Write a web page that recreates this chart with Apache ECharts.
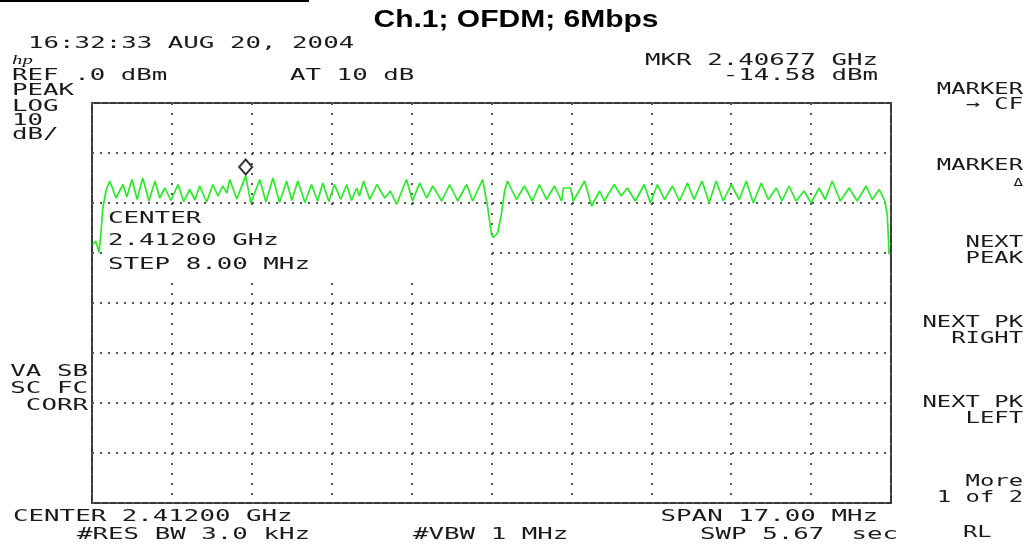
<!DOCTYPE html>
<html><head><meta charset="utf-8">
<script src="https://cdn.jsdelivr.net/npm/echarts@6/dist/echarts.min.js"></script>
<style>html,body{margin:0;padding:0;background:#fff}#c{width:1035px;height:550px}</style>
</head><body><div id="c"></div><script>
// Frequency offset from centre (MHz) and level (dBm) of trace vertices
const freqOffsetMHz = [-8.48,-8.42,-8.35,-8.31,-8.27,-8.20,-8.12,-7.99,-7.84,-7.76,-7.65,-7.54,-7.42,-7.29,-7.16,-7.06,-6.95,-6.82,-6.67,-6.55,-6.42,-6.31,-6.21,-6.06,-5.93,-5.82,-5.72,-5.63,-5.57,-5.42,-5.23,-5.12,-4.93,-4.80,-4.65,-4.51,-4.36,-4.25,-4.12,-3.97,-3.83,-3.70,-3.59,-3.46,-3.34,-3.21,-3.08,-2.98,-2.87,-2.81,-2.72,-2.59,-2.44,-2.27,-2.15,-2.02,-1.81,-1.68,-1.53,-1.38,-1.25,-1.06,-0.89,-0.72,-0.53,-0.40,-0.19,-0.09,0.00,0.04,0.13,0.21,0.28,0.34,0.53,0.70,0.87,1.02,1.17,1.34,1.49,1.53,1.68,1.74,1.98,2.13,2.30,2.40,2.61,2.76,2.89,3.06,3.25,3.38,3.53,3.68,3.85,4.00,4.17,4.31,4.48,4.63,4.78,4.93,5.10,5.27,5.42,5.57,5.74,5.89,6.06,6.18,6.33,6.48,6.65,6.80,6.97,7.10,7.25,7.42,7.61,7.78,7.97,8.10,8.25,8.37,8.42,8.44,8.46];
const levelDbm = [-28.3,-27.6,-29.9,-26.0,-21.0,-17.5,-15.6,-19.0,-16.3,-18.8,-15.3,-19.3,-15.0,-19.6,-15.6,-19.0,-17.0,-19.5,-16.3,-19.7,-17.3,-19.4,-16.6,-19.8,-16.3,-18.6,-16.6,-18.0,-15.3,-19.2,-14.58,-20.0,-15.3,-19.8,-15.0,-19.9,-15.6,-19.5,-15.6,-19.9,-16.3,-19.6,-16.0,-19.7,-16.3,-19.3,-16.3,-19.5,-17.0,-18.6,-15.6,-19.3,-16.3,-19.0,-17.6,-20.3,-15.3,-19.6,-16.0,-19.0,-16.6,-19.6,-16.3,-19.6,-16.3,-19.6,-15.3,-20.3,-26.3,-26.9,-26.0,-22.3,-17.5,-15.6,-19.3,-16.6,-19.6,-16.3,-19.3,-16.6,-19.6,-17.0,-17.0,-19.6,-15.6,-20.6,-17.6,-19.6,-16.3,-18.6,-17.0,-19.6,-16.3,-20.0,-16.3,-19.3,-16.6,-19.6,-16.0,-19.3,-15.6,-20.0,-15.6,-19.6,-16.3,-19.3,-15.6,-20.0,-16.0,-19.3,-17.0,-19.6,-16.6,-19.6,-17.6,-20.0,-17.0,-19.3,-15.6,-19.6,-17.0,-19.6,-16.6,-19.3,-17.3,-19.6,-22.3,-26.0,-30.3];
const markerFreq = [-5.23];
const markerLevel = [-14.58];
const xRange = [-8.5, 8.5, 1.7];   // span 17 MHz, 10 divisions
const yRange = [-80, 0, 10];       // REF 0 dBm, 10 dB/div

const chart = echarts.init(document.getElementById('c'), null, {renderer: 'canvas'});
const MONO = '"DejaVu Sans Mono"';
function T(text, x, y, align, sx, size) {
  return {type: 'text', x: x, y: y, scaleX: sx || 1.72, z: 10,
    style: {text: text, font: (size || 15) + 'px ' + MONO, fill: '#1a1a1a',
      align: align || 'left', textAlign: align || 'left', verticalAlign: 'middle', textVerticalAlign: 'middle'}};
}
const R = 1023, RS = 1.59;
const graphics = [
  {type: 'line', z: 10, shape: {x1: 0, y1: 1, x2: 309, y2: 1}, style: {stroke: '#000', lineWidth: 2}},
  {type: 'text', x: 516, y: 20, scaleX: 1.25, z: 10, style: {text: 'Ch.1; OFDM; 6Mbps', font: 'bold 24px "Liberation Sans"', fill: '#000', align: 'center', textAlign: 'center', verticalAlign: 'middle', textVerticalAlign: 'middle'}},
  T('16:32:33 AUG 20, 2004', 28, 44),
  {type: 'text', x: 12, y: 61, scaleX: 1.6, z: 10, style: {text: 'hp', font: 'italic 13px "Liberation Serif"', fill: '#111', align: 'left', textAlign: 'left', verticalAlign: 'middle', textVerticalAlign: 'middle'}},
  T('REF .0 dBm', 12, 76),
  T('AT 10 dB', 290, 76),
  T('MKR 2.40677 GHz', 878, 61, 'right'),
  T('-14.58 dBm', 878, 76, 'right'),
  T('PEAK', 12, 91), T('LOG', 12, 107), T('10', 12, 121), T('dB/', 12, 135),
  T('VA SB', 88, 372, 'right'), T('SC FC', 88, 389, 'right'), T('CORR', 88, 406, 'right'),
  {type: 'rect', z: 1, shape: {x: 104, y: 207, width: 384, height: 75}, style: {fill: '#fff'}},
  T('CENTER', 108, 219), T('2.41200 GHz', 108, 241), T('STEP 8.00 MHz', 108, 265),
  T('MARKER', R, 90, 'right', RS), T('\u2192 CF', R, 105, 'right', RS),
  T('MARKER', R, 166, 'right', RS), T('\u0394', R, 183, 'right', RS, 10),
  T('NEXT', R, 243, 'right', RS), T('PEAK', R, 259, 'right', RS),
  T('NEXT PK', R, 323, 'right', RS), T('RIGHT', R, 339, 'right', RS),
  T('NEXT PK', R, 403, 'right', RS), T('LEFT', R, 419, 'right', RS),
  T('More', R, 482, 'right', RS), T('1 of 2', R, 498, 'right', RS),
  T('RL', 963, 533, 'left', RS),
  T('CENTER 2.41200 GHz', 13, 517),
  T('#RES BW 3.0 kHz', 77, 535),
  T('#VBW 1 MHz', 413, 535),
  T('SPAN 17.00 MHz', 878, 517, 'right'),
  T('SWP 5.67', 700, 535),
  T('sec', 898, 535, 'right')
];

chart.setOption({
  animation: false,
  backgroundColor: '#fff',
  grid: {left: 92, top: 103, width: 799, height: 400, show: true, borderColor: '#383838', borderWidth: 2, backgroundColor: 'transparent'},
  xAxis: {type: 'value', min: xRange[0], max: xRange[1], interval: xRange[2],
    axisLine: {show: false}, axisTick: {show: false}, axisLabel: {show: false},
    splitLine: {show: true, lineStyle: {color: '#555', width: 2, type: [2, 8]}}},
  yAxis: {type: 'value', min: yRange[0], max: yRange[1], interval: yRange[2],
    axisLine: {show: false}, axisTick: {show: false}, axisLabel: {show: false},
    splitLine: {show: true, lineStyle: {color: '#555', width: 2, type: [2, 6]}}},
  graphic: {elements: graphics},
  series: [
    {type: 'line', data: freqOffsetMHz.map((f, i) => [f, levelDbm[i]]), showSymbol: false, symbol: 'none',
      lineStyle: {color: '#2bea2b', width: 1.7}, z: 5},
    {type: 'scatter', data: markerFreq.map((f, i) => [f, markerLevel[i]]), symbol: 'diamond', symbolSize: [13, 15], symbolOffset: [0, -9],
      itemStyle: {color: '#fff', borderColor: '#000', borderWidth: 2}, z: 6}
  ]
});
</script></body></html>
